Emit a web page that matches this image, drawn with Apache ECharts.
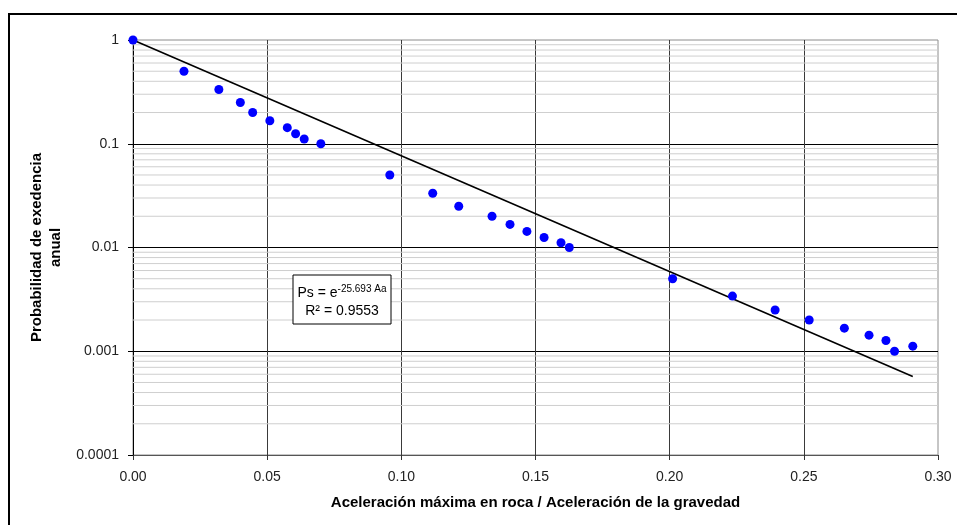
<!DOCTYPE html>
<html>
<head>
<meta charset="utf-8">
<script src="https://cdn.jsdelivr.net/npm/echarts@6/dist/echarts.min.js"></script>
<style>
  html, body { margin: 0; padding: 0; background: #fff; }
  #chart { width: 957px; height: 525px; }
</style>
</head>
<body>
<div id="chart"></div>
<script>
// aceleración máxima en roca / g
const accel = [0, 0.019, 0.032, 0.040, 0.0446, 0.051, 0.0575, 0.0606, 0.0638, 0.070,
  0.0957, 0.1117, 0.1214, 0.1338, 0.1405, 0.1468, 0.1532, 0.1595, 0.1626,
  0.2011, 0.2234, 0.2393, 0.252, 0.2651, 0.2743, 0.2806, 0.2838, 0.2906];
// probabilidad de excedencia anual
const prob = [1, 0.5, 0.333, 0.25, 0.2, 0.1667, 0.1429, 0.125, 0.111, 0.1,
  0.05, 0.0333, 0.025, 0.02, 0.0167, 0.0143, 0.0125, 0.0111, 0.01,
  0.005, 0.0034, 0.0025, 0.002, 0.00167, 0.00143, 0.00127, 0.001, 0.00112];

// linea de tendencia exponencial (Ps = e^-25.693 Aa)
const trendCoef = -25.693;
const trendX = [0, 0.2906];

const yTickLabels = ["0.0001", "0.001", "0.01", "0.1", "1"];
const xTickLabels = ["0.00", "0.05", "0.10", "0.15", "0.20", "0.25", "0.30"];

const chart = echarts.init(document.getElementById("chart"));

// lineas menores de la cuadricula (2..9 de cada década)
const minorVals = [];
[0.0001, 0.001, 0.01, 0.1].forEach((d) => {
  for (let k = 2; k <= 9; k++) minorVals.push(+(d * k).toPrecision(3));
});
const minorSeries = minorVals.map((v) => ({
  type: "line",
  data: [[0, v], [0.3, v]],
  showSymbol: false,
  silent: true,
  z: 1,
  lineStyle: { color: "#cfcfcf", width: 1 },
  emphasis: { disabled: true },
}));

const font = "Liberation Sans, Arial, sans-serif";

chart.setOption({
  animation: false,
  backgroundColor: "#fff",
  grid: {
    left: 133, top: 40, right: 19, bottom: 70,
    show: true, borderColor: "#8c8c8c", borderWidth: 1, backgroundColor: "transparent",
  },
  xAxis: {
    type: "value",
    min: 0, max: 0.3, interval: 0.05,
    name: "Aceleración máxima en roca / Aceleración de la gravedad",
    nameLocation: "middle",
    nameGap: 40,
    nameTextStyle: { fontFamily: font, fontSize: 15, fontWeight: "bold", color: "#000" },
    axisLine: { lineStyle: { color: "#555", width: 1 } },
    axisTick: { show: true, length: 5, lineStyle: { color: "#333" } },
    axisLabel: {
      fontFamily: font, fontSize: 14, color: "#222", margin: 15,
      formatter: (v) => xTickLabels[Math.round(v / 0.05)],
    },
    splitLine: { show: true, showMinLine: false, showMaxLine: false, lineStyle: { color: "#3a3a3a", width: 1 } },
  },
  yAxis: {
    type: "log",
    logBase: 10,
    min: 0.0001, max: 1,
    name: "Probabilidad de exedencia\nanual",
    nameLocation: "middle",
    nameGap: 63,
    nameTextStyle: { fontFamily: font, fontSize: 15, fontWeight: "bold", color: "#000", lineHeight: 19 },
    axisLine: { show: true, lineStyle: { color: "#000", width: 1 } },
    axisTick: { show: true, length: 5, lineStyle: { color: "#000" } },
    axisLabel: {
      fontFamily: font, fontSize: 14, color: "#222", margin: 14,
      formatter: (v) => yTickLabels[Math.round(Math.log10(v)) + 4],
    },
    splitLine: { show: true, showMinLine: false, showMaxLine: false, lineStyle: { color: "#000", width: 1 } },
  },
  series: minorSeries.concat([
    {
      name: "Tendencia",
      type: "line",
      data: trendX.map((x) => [x, Math.exp(trendCoef * x)]),
      showSymbol: false,
      lineStyle: { color: "#000", width: 1.6 },
      z: 3,
    },
    {
      name: "Datos",
      type: "scatter",
      data: accel.map((x, i) => [x, prob[i]]),
      symbol: "circle",
      symbolSize: 9,
      itemStyle: { color: "#0000ff", opacity: 1 },
      z: 4,
    },
  ]),
  graphic: [
    {
      type: "rect",
      shape: { x: 9, y: 14, width: 1000, height: 600 },
      style: { fill: "none", stroke: "#000", lineWidth: 2 },
      silent: true,
      z: 100,
    },
    {
      type: "rect",
      shape: { x: 293, y: 275, width: 98, height: 49 },
      style: { fill: "#fff", stroke: "#000", lineWidth: 1 },
      z: 100,
    },
    {
      type: "text",
      x: 342, y: 293,
      style: {
        text: "{n|Ps = e}{s|-25.693 Aa}",
        align: "center", verticalAlign: "middle",
        rich: {
          n: { fontFamily: font, fontSize: 14, fill: "#000", lineHeight: 18 },
          s: { fontFamily: font, fontSize: 10, fill: "#000", verticalAlign: "top", lineHeight: 18, padding: [0, 0, 6, 0] },
        },
      },
      z: 101,
    },
    {
      type: "text",
      x: 342, y: 311,
      style: {
        text: "R² = 0.9553",
        align: "center", verticalAlign: "middle",
        fontFamily: font, fontSize: 14, fill: "#000",
      },
      z: 101,
    },
  ],
});
</script>
</body>
</html>
